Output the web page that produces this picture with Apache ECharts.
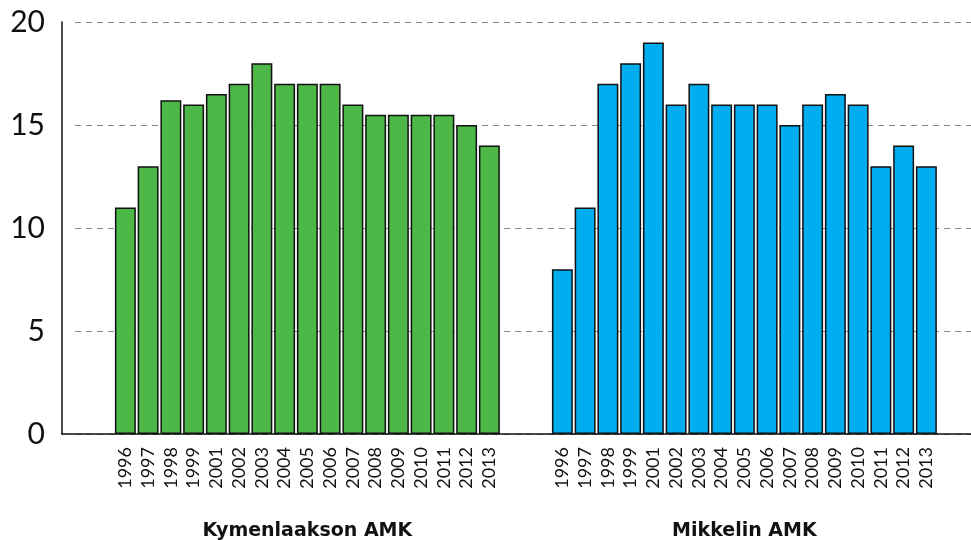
<!DOCTYPE html>
<html><head><meta charset="utf-8">
<script src="https://cdn.jsdelivr.net/npm/echarts@6/dist/echarts.min.js"></script>
<style>html,body{margin:0;padding:0;background:#fff}#c{width:971px;height:540px}</style>
</head><body><div id="c"></div>
<script>
const years = ['1996','1997','1998','1999','2001','2002','2003','2004','2005','2006','2007','2008','2009','2010','2011','2012','2013'];
const kymenlaakso = [11, 13, 16.2, 16, 16.5, 17, 18, 17, 17, 17, 16, 15.5, 15.5, 15.5, 15.5, 15, 14];
const mikkeli = [8, 11, 17, 18, 19, 16, 17, 16, 16, 16, 15, 16, 16.5, 16, 13, 14, 13];
const groupNames = ['Kymenlaakson AMK', 'Mikkelin AMK'];
const yTicks = [0, 5, 10, 15, 20];

(function () {
const chart = echarts.init(document.getElementById('c'));
const FONT = 'Lato';
const gTop = 22, gBottom = 106;
const slot = 22.75;
const g1Left = 114, g2Left = 551;
const gw = slot * years.length;

function barSeries(data, color, idx) {
  return {
    type: 'bar', xAxisIndex: idx, yAxisIndex: idx, data: data,
    barCategoryGap: '8%',
    itemStyle: { color: color, borderColor: '#111', borderWidth: 1.5 },
    silent: true
  };
}
function catAxis(idx, name) {
  return {
    type: 'category', gridIndex: idx, data: years,
    axisLine: { show: false }, axisTick: { show: false },
    axisLabel: { rotate: 90, fontFamily: FONT, fontSize: 18, color: '#111', margin: 13, interval: 0 },
    name: name, nameLocation: 'middle', nameGap: 88,
    nameTextStyle: { fontFamily: 'DejaVu Sans', fontSize: 19, fontWeight: 'bold', color: '#111' }
  };
}
function hiddenY(idx) {
  return { type: 'value', gridIndex: idx, min: 0, max: 20, interval: 5, show: false };
}
function grid(left, width, right) {
  const g = { left: left, top: gTop, bottom: gBottom, containLabel: false, outerBoundsMode: 'none' };
  if (width != null) g.width = width; else g.right = right;
  return g;
}

chart.setOption({
  animation: false,
  grid: [
    grid(62, null, 0),
    grid(75, null, 0),
    grid(g1Left, gw),
    grid(g2Left, gw)
  ],
  xAxis: [
    { type: 'category', gridIndex: 0, data: [''], axisLine: { show: true, lineStyle: { color: '#111', width: 1.5 } }, axisTick: { show: false }, axisLabel: { show: false } },
    { type: 'category', gridIndex: 1, data: [''], show: false },
    catAxis(2, groupNames[0]),
    catAxis(3, groupNames[1])
  ],
  yAxis: [
    { type: 'value', gridIndex: 0, min: yTicks[0], max: yTicks[yTicks.length - 1], interval: 5,
      axisLine: { show: true, lineStyle: { color: '#111', width: 1.5 } }, axisTick: { show: false },
      splitLine: { show: false },
      axisLabel: { fontFamily: FONT, fontSize: 30, color: '#111', margin: 17 } },
    { type: 'value', gridIndex: 1, min: 0, max: 20, interval: 5,
      axisLine: { show: false }, axisTick: { show: false }, axisLabel: { show: false },
      splitLine: { show: true, lineStyle: { color: '#888', type: [6, 5], width: 1.2 } } },
    hiddenY(2), hiddenY(3)
  ],
  series: [
    barSeries(kymenlaakso, '#4db748', 2),
    barSeries(mikkeli, '#00adef', 3)
  ]
});
})();
</script></body></html>
